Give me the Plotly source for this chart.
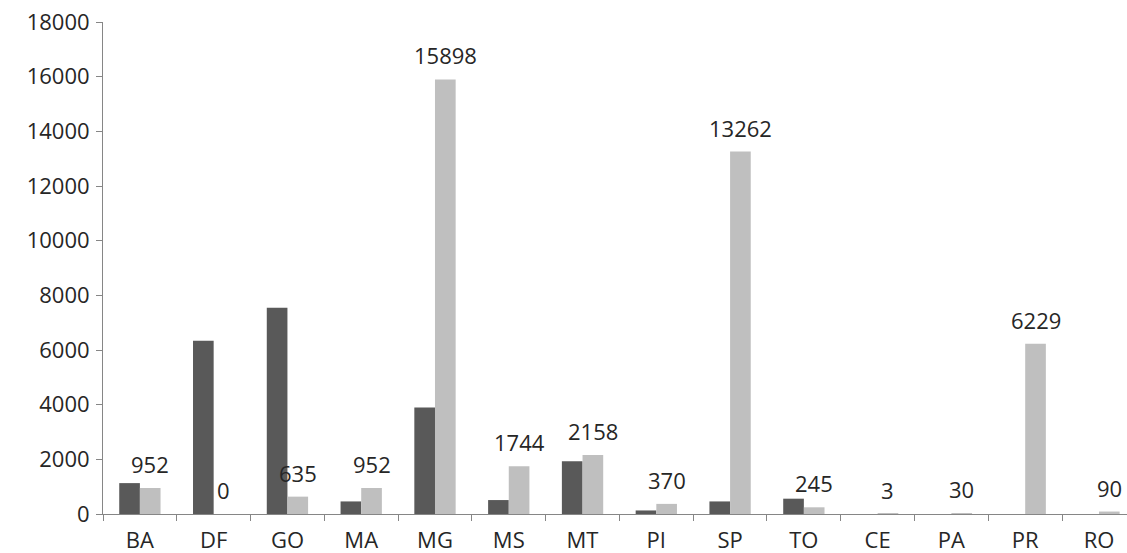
import plotly.graph_objects as go

# Brazilian states
states = ["BA", "DF", "GO", "MA", "MG", "MS", "MT", "PI", "SP", "TO", "CE", "PA", "PR", "RO"]
# first series (dark bars, unlabelled)
series_dark = [1130, 6340, 7550, 460, 3900, 510, 1930, 130, 460, 560, 0, 0, 0, 0]
# second series (light bars, labelled)
series_light = [952, 0, 635, 952, 15898, 1744, 2158, 370, 13262, 245, 3, 30, 6229, 90]
y_ticks = list(range(0, 18001, 2000))

DARK = "#595959"
LIGHT = "#BFBFBF"
AXIS = "#868686"
FONT = "Open Sans"
FS = 22
BARGAP = 0.44
bar_w = (1 - BARGAP) / 2

fig = go.Figure()
fig.add_trace(go.Bar(x=states, y=series_dark, marker_color=DARK, marker_line_width=0, name="A"))
fig.add_trace(go.Bar(x=states, y=series_light, marker_color=LIGHT, marker_line_width=0, name="B"))

# value labels above the light bars
for i, v in enumerate(series_light):
    fig.add_annotation(
        x=i + bar_w / 2, y=v, xref="x", yref="y",
        text=str(v), showarrow=False,
        xanchor="center", yanchor="middle", yshift=24,
        font=dict(family=FONT, size=FS, color="#262626"),
    )

fig.update_layout(
    width=1127, height=553,
    margin=dict(l=103, r=0, t=22, b=39, autoexpand=False),
    paper_bgcolor="white", plot_bgcolor="white",
    barmode="group", bargap=BARGAP, bargroupgap=0,
    showlegend=False,
    font=dict(family=FONT, size=FS, color="#262626"),
)
fig.update_xaxes(
    type="category", range=[-0.5, 13.38],
    showline=True, linecolor=AXIS, linewidth=1,
    ticks="outside", tickson="boundaries", ticklen=6, tickcolor=AXIS,
    ticklabelstandoff=7,
    showgrid=False, zeroline=False,
)
fig.update_yaxes(
    range=[0, 18000], tickvals=y_ticks, ticktext=[str(t) for t in y_ticks],
    showline=True, linecolor=AXIS, linewidth=1,
    ticks="outside", ticklen=6, tickcolor=AXIS,
    ticklabelstandoff=2,
    showgrid=False, zeroline=False,
)

fig.write_html("out.html")
